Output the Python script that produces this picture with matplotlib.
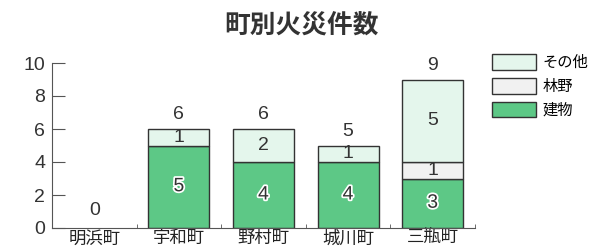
import matplotlib
matplotlib.use("Agg")
import matplotlib.pyplot as plt
import matplotlib.patheffects as pe
from matplotlib.patches import Patch
import numpy as np

plt.rcParams['font.family'] = ['Noto Sans CJK JP', 'DejaVu Sans']

categories = ['明浜町', '宇和町', '野村町', '城川町', '三瓶町']
building = [0, 5, 4, 4, 3]
forest = [0, 0, 0, 0, 1]
other = [0, 1, 2, 1, 5]
totals = [0, 6, 6, 5, 9]
yticks = [0, 2, 4, 6, 8, 10]
title = '町別火災件数'
series_names = ['建物', '林野', 'その他']

c_build = '#5dc886'
c_forest = '#f1f1f1'
c_other = '#e4f6ec'
edge = '#333333'
numfont = 'Liberation Sans'

fig = plt.figure(figsize=(5.91, 2.48), dpi=100)
ax = fig.add_axes([52/591, 1-228/248, (475-52)/591, (228-63)/248])

x = np.arange(len(categories))
w = 0.72
b = np.array(building); f = np.array(forest); o = np.array(other)
lw = lambda v: [1.0 if vv > 0 else 0 for vv in v]
ax.bar(x, b, w, color=c_build, edgecolor=edge, linewidth=lw(b))
ax.bar(x, f, w, bottom=b, color=c_forest, edgecolor=edge, linewidth=lw(f))
ax.bar(x, o, w, bottom=b+f, color=c_other, edgecolor=edge, linewidth=lw(o))

halo = [pe.withStroke(linewidth=2.5, foreground='white')]
fs = 14
for i in range(len(categories)):
    if b[i] > 0:
        ax.text(x[i], b[i]/2, str(b[i]), ha='center', va='center', fontsize=fs,
                family=numfont, color='#333333', path_effects=halo)
    if f[i] > 0:
        ax.text(x[i], b[i]+f[i]/2, str(f[i]), ha='center', va='center', fontsize=fs,
                family=numfont, color='#333333')
    if o[i] > 0:
        ax.text(x[i], b[i]+f[i]+o[i]/2, str(o[i]), ha='center', va='center', fontsize=fs,
                family=numfont, color='#333333')
    ax.text(x[i], totals[i] + (0.35 if totals[i] > 0 else 0.55), str(totals[i]),
            ha='center', va='bottom', fontsize=fs, family=numfont, color='#333333')

ax.set_xlim(-0.5, len(categories)-0.5)
ax.set_ylim(0, 10)
ax.set_yticks(yticks)
ax.set_yticklabels([str(t) for t in yticks], fontsize=14, family=numfont, color='#333333')
ax.set_xticks(x)
ax.set_xticklabels(categories, fontsize=12.5, color='#222222')
ax.tick_params(axis='x', length=0, pad=1)
ax.set_xticks(np.arange(len(categories)+1) - 0.5, minor=True)
ax.tick_params(axis='x', which='minor', length=3, direction='in', color='#555555')
ax.tick_params(axis='y', direction='in', length=9, width=0.8, color='#555555', pad=5)
for s in ['top', 'right']:
    ax.spines[s].set_visible(False)
for s in ['left', 'bottom']:
    ax.spines[s].set_color('#555555')
    ax.spines[s].set_linewidth(0.8)

fig.text(302/591, 1-26/248, title, ha='center', va='center', fontsize=18.5,
         fontweight='bold', color='#333333')

handles = [Patch(facecolor=c, edgecolor=edge, linewidth=1.0) for c in (c_other, c_forest, c_build)]
leg = fig.legend(handles, series_names[::-1], loc='upper left',
                 bbox_to_anchor=(492/591, 1-54/248), frameon=False, fontsize=11,
                 handlelength=2.9, handleheight=1.2, handletextpad=0.4, labelspacing=0.45,
                 borderaxespad=0, borderpad=0)

fig.savefig('out.png', dpi=100)
